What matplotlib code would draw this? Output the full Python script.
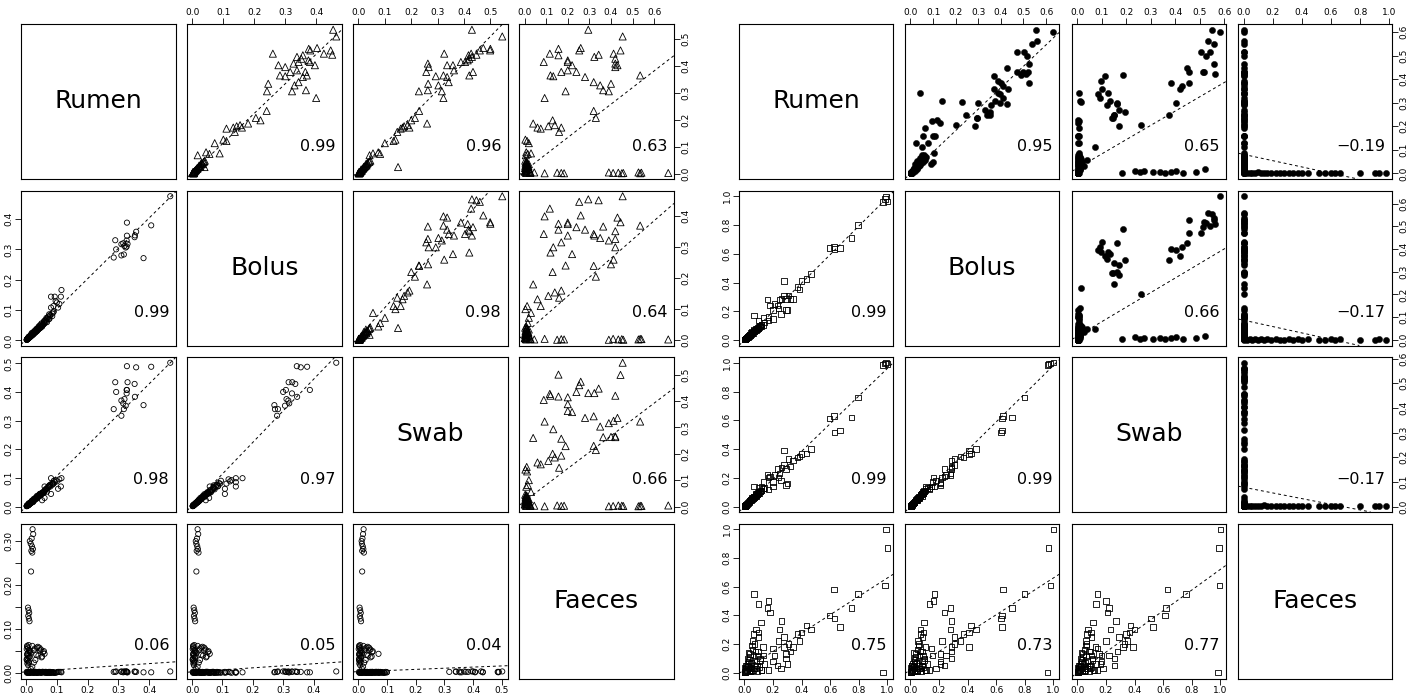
import matplotlib
matplotlib.use("Agg")
import matplotlib.pyplot as plt
from matplotlib.ticker import MaxNLocator
import numpy as np

names = ["Rumen", "Bolus", "Swab", "Faeces"]

# left figure, lower panels (open circles)
circ_rumen = [
    0.469, 0.407, 0.328, 0.358, 0.353, 0.290, 0.330, 0.293, 0.327, 0.327,
    0.382, 0.354, 0.324, 0.320, 0.316, 0.310, 0.310, 0.318, 0.285, 0.328,
    0.081, 0.093, 0.113, 0.115, 0.096, 0.089, 0.104, 0.081, 0.100, 0.108,
    0.090, 0.085, 0.078, 0.072, 0.070, 0.066, 0.062, 0.075, 0.068, 0.058,
    0.055, 0.050, 0.047, 0.044, 0.040, 0.036, 0.033, 0.030, 0.027, 0.024,
    0.021, 0.018, 0.015, 0.012, 0.010, 0.008, 0.006, 0.004, 0.060, 0.052,
    0.085, 0.079, 0.074, 0.069, 0.064, 0.059, 0.054, 0.049, 0.045, 0.041,
    0.038, 0.034, 0.031, 0.028, 0.025, 0.022, 0.019, 0.016, 0.013, 0.011,
    0.009, 0.007, 0.005, 0.003, 0.002, 0.088, 0.076, 0.065, 0.046, 0.035,
    0.021, 0.023, 0.018, 0.015, 0.019, 0.022, 0.017, 0.020, 0.016, 0.012,
    0.006, 0.008, 0.010, 0.007, 0.009, 0.011,
    0.008, 0.004, 0.002, 0.010, 0.006, 0.003, 0.012, 0.005, 0.002, 0.009, 0.004, 0.007,
    0.035, 0.045, 0.055, 0.060, 0.040, 0.050, 0.030, 0.025, 0.020, 0.015,
    0.003, 0.006, 0.009, 0.012, 0.004, 0.007, 0.010, 0.002, 0.005, 0.008,
    0.020, 0.028, 0.038, 0.048, 0.058, 0.015, 0.025, 0.033, 0.043, 0.052,
]
circ_bolus = [
    0.475, 0.379, 0.345, 0.358, 0.340, 0.330, 0.318, 0.300, 0.309, 0.329,
    0.271, 0.346, 0.306, 0.311, 0.320, 0.317, 0.280, 0.283, 0.273, 0.388,
    0.144, 0.144, 0.144, 0.166, 0.130, 0.113, 0.108, 0.108, 0.125, 0.120,
    0.095, 0.088, 0.082, 0.078, 0.070, 0.074, 0.066, 0.086, 0.060, 0.062,
    0.052, 0.056, 0.044, 0.048, 0.042, 0.038, 0.030, 0.034, 0.026, 0.028,
    0.020, 0.024, 0.016, 0.014, 0.010, 0.012, 0.006, 0.004, 0.056, 0.045,
    0.080, 0.084, 0.070, 0.073, 0.060, 0.064, 0.050, 0.053, 0.040, 0.046,
    0.034, 0.037, 0.027, 0.031, 0.022, 0.025, 0.017, 0.019, 0.012, 0.013,
    0.008, 0.009, 0.005, 0.003, 0.002, 0.092, 0.071, 0.069, 0.050, 0.039,
    0.018, 0.020, 0.016, 0.014, 0.017, 0.019, 0.015, 0.021, 0.014, 0.012,
    0.005, 0.007, 0.009, 0.006, 0.008, 0.010,
    0.007, 0.003, 0.002, 0.009, 0.005, 0.003, 0.011, 0.004, 0.002, 0.008, 0.004, 0.006,
    0.030, 0.040, 0.052, 0.058, 0.036, 0.046, 0.026, 0.022, 0.018, 0.012,
    0.003, 0.005, 0.008, 0.011, 0.004, 0.006, 0.009, 0.002, 0.005, 0.007,
    0.018, 0.025, 0.034, 0.044, 0.054, 0.014, 0.022, 0.030, 0.040, 0.048,
]
circ_swab = [
    0.502, 0.488, 0.490, 0.486, 0.428, 0.434, 0.434, 0.400, 0.407, 0.395,
    0.354, 0.383, 0.352, 0.375, 0.360, 0.370, 0.317, 0.340, 0.340, 0.407,
    0.099, 0.085, 0.070, 0.099, 0.092, 0.080, 0.062, 0.044, 0.088, 0.095,
    0.090, 0.082, 0.076, 0.070, 0.065, 0.060, 0.058, 0.072, 0.052, 0.050,
    0.048, 0.046, 0.040, 0.044, 0.036, 0.034, 0.028, 0.030, 0.024, 0.026,
    0.018, 0.020, 0.015, 0.012, 0.009, 0.011, 0.006, 0.004, 0.030, 0.022,
    0.076, 0.070, 0.068, 0.064, 0.058, 0.055, 0.050, 0.046, 0.043, 0.040,
    0.036, 0.032, 0.030, 0.027, 0.024, 0.021, 0.018, 0.016, 0.013, 0.011,
    0.009, 0.007, 0.005, 0.003, 0.002, 0.080, 0.074, 0.062, 0.044, 0.037,
    0.018, 0.016, 0.014, 0.012, 0.015, 0.017, 0.013, 0.019, 0.013, 0.011,
    0.004, 0.006, 0.008, 0.005, 0.007, 0.009,
    0.006, 0.003, 0.001, 0.008, 0.005, 0.002, 0.010, 0.004, 0.002, 0.007, 0.003, 0.006,
    0.028, 0.038, 0.048, 0.070, 0.034, 0.042, 0.025, 0.020, 0.016, 0.012,
    0.002, 0.005, 0.007, 0.010, 0.003, 0.006, 0.009, 0.002, 0.004, 0.007,
    0.017, 0.024, 0.032, 0.042, 0.050, 0.013, 0.021, 0.029, 0.037, 0.046,
]
circ_faeces = [
    0.004, 0.002, 0.003, 0.003, 0.004, 0.003, 0.002, 0.004, 0.003, 0.004,
    0.002, 0.003, 0.004, 0.003, 0.002, 0.004, 0.003, 0.004, 0.003, 0.002,
    0.002, 0.001, 0.003, 0.002, 0.001, 0.002, 0.003, 0.001, 0.002, 0.003,
    0.001, 0.002, 0.003, 0.001, 0.002, 0.001, 0.003, 0.002, 0.001, 0.002,
    0.003, 0.001, 0.002, 0.003, 0.001, 0.002, 0.001, 0.003, 0.002, 0.001,
    0.002, 0.003, 0.001, 0.002, 0.001, 0.003, 0.002, 0.001, 0.002, 0.003,
    0.002, 0.001, 0.003, 0.002, 0.001, 0.002, 0.003, 0.001, 0.002, 0.003,
    0.001, 0.002, 0.003, 0.001, 0.002, 0.001, 0.003, 0.002, 0.001, 0.002,
    0.003, 0.001, 0.002, 0.001, 0.003, 0.002, 0.001, 0.003, 0.002, 0.001,
    0.327, 0.316, 0.306, 0.294, 0.288, 0.282, 0.278, 0.274, 0.231, 0.300,
    0.149, 0.143, 0.137, 0.130, 0.124, 0.118,
    0.064, 0.060, 0.055, 0.050, 0.046, 0.042, 0.038, 0.034, 0.030, 0.026, 0.022, 0.018,
    0.058, 0.052, 0.048, 0.044, 0.040, 0.036, 0.030, 0.024, 0.015, 0.010,
    0.062, 0.057, 0.053, 0.049, 0.044, 0.040, 0.036, 0.032, 0.028, 0.024,
    0.062, 0.056, 0.060, 0.054, 0.050, 0.046, 0.052, 0.042, 0.058, 0.038,
]

# left figure, upper panels (open triangles)
tri_rumen = [
    0.535, 0.510, 0.446, 0.434, 0.464, 0.458, 0.467, 0.446, 0.458, 0.442,
    0.403, 0.396, 0.409, 0.415, 0.427, 0.440, 0.421, 0.415, 0.403, 0.365,
    0.362, 0.378, 0.384, 0.378, 0.365, 0.340, 0.328, 0.310, 0.281, 0.306,
    0.359, 0.334, 0.306, 0.233, 0.207, 0.198, 0.186, 0.167, 0.171, 0.176,
    0.180, 0.171, 0.155, 0.126, 0.121, 0.113, 0.079, 0.073, 0.075, 0.068,
    0.024,
    0.045, 0.040, 0.035, 0.030, 0.025, 0.020, 0.015, 0.010, 0.005,
    0.048, 0.043, 0.038, 0.033, 0.028, 0.024, 0.020, 0.017, 0.014, 0.011,
    0.008, 0.006, 0.004, 0.003, 0.002, 0.036, 0.026, 0.018, 0.012, 0.007,
    0.002, 0.004, 0.001, 0.003, 0.002, 0.001, 0.004, 0.002, 0.003, 0.001,
    0.002, 0.004, 0.001, 0.003, 0.002,
]
tri_bolus = [
    0.455, 0.465, 0.260, 0.338, 0.376, 0.381, 0.403, 0.425, 0.447, 0.452,
    0.278, 0.300, 0.327, 0.343, 0.352, 0.357, 0.375, 0.380, 0.396, 0.283,
    0.300, 0.316, 0.338, 0.365, 0.370, 0.343, 0.330, 0.367, 0.400, 0.322,
    0.357, 0.245, 0.241, 0.240, 0.205, 0.220, 0.180, 0.110, 0.132, 0.143,
    0.154, 0.160, 0.137, 0.100, 0.110, 0.072, 0.044, 0.055, 0.088, 0.017,
    0.039,
    0.038, 0.030, 0.034, 0.022, 0.026, 0.015, 0.012, 0.008, 0.004,
    0.040, 0.036, 0.031, 0.027, 0.024, 0.020, 0.017, 0.014, 0.012, 0.009,
    0.007, 0.005, 0.004, 0.003, 0.002, 0.028, 0.020, 0.016, 0.010, 0.006,
    0.003, 0.002, 0.004, 0.001, 0.003, 0.002, 0.001, 0.004, 0.002, 0.003,
    0.001, 0.002, 0.004, 0.003, 0.002,
]
tri_swab = [
    0.430, 0.545, 0.325, 0.430, 0.500, 0.499, 0.473, 0.427, 0.460, 0.447,
    0.358, 0.266, 0.263, 0.404, 0.420, 0.417, 0.414, 0.388, 0.336, 0.420,
    0.293, 0.257, 0.362, 0.434, 0.322, 0.342, 0.303, 0.263, 0.322, 0.316,
    0.336, 0.264, 0.229, 0.230, 0.214, 0.200, 0.260, 0.160, 0.167, 0.173,
    0.186, 0.193, 0.147, 0.140, 0.133, 0.100, 0.075, 0.082, 0.055, 0.042,
    0.150,
    0.042, 0.035, 0.028, 0.030, 0.020, 0.018, 0.010, 0.012, 0.005,
    0.045, 0.040, 0.034, 0.030, 0.026, 0.022, 0.019, 0.016, 0.013, 0.010,
    0.008, 0.006, 0.004, 0.003, 0.002, 0.032, 0.024, 0.015, 0.011, 0.008,
    0.002, 0.003, 0.001, 0.004, 0.002, 0.003, 0.001, 0.002, 0.004, 0.003,
    0.002, 0.001, 0.003, 0.002, 0.004,
]
tri_faeces = [
    0.295, 0.454, 0.412, 0.323, 0.157, 0.444, 0.260, 0.117, 0.253, 0.343,
    0.220, 0.420, 0.420, 0.089, 0.420, 0.157, 0.200, 0.200, 0.430, 0.120,
    0.133, 0.170, 0.200, 0.240, 0.535, 0.320, 0.350, 0.364, 0.093, 0.390,
    0.280, 0.400, 0.190, 0.320, 0.330, 0.130, 0.040, 0.075, 0.060, 0.110,
    0.140, 0.170, 0.160, 0.004, 0.012, 0.020, 0.008, 0.015, 0.030, 0.006,
    0.010,
    0.010, 0.005, 0.020, 0.008, 0.015, 0.003, 0.012, 0.006, 0.025,
    0.003, 0.008, 0.012, 0.005, 0.018, 0.010, 0.004, 0.022, 0.007, 0.015,
    0.002, 0.011, 0.028, 0.006, 0.009, 0.014, 0.003, 0.017, 0.008, 0.001,
    0.026, 0.045, 0.093, 0.151, 0.170, 0.183, 0.390, 0.410, 0.434, 0.450,
    0.457, 0.527, 0.535, 0.541, 0.665,
]

# right figure, lower panels (open squares)
sq_rumen = [
    0.990, 1.000, 0.984, 0.970,
    0.796, 0.750, 0.626, 0.597, 0.670, 0.632,
    0.465, 0.434, 0.400, 0.370, 0.387, 0.277, 0.310, 0.277, 0.340, 0.324,
    0.290, 0.260, 0.245, 0.210, 0.230, 0.180, 0.160, 0.240, 0.200, 0.290,
    0.300, 0.255, 0.066, 0.170, 0.135, 0.100, 0.170, 0.200,
    0.140, 0.130, 0.120, 0.115, 0.110, 0.105, 0.100, 0.095, 0.090, 0.085,
    0.080, 0.075, 0.070, 0.065, 0.060, 0.055, 0.050, 0.045, 0.040, 0.036,
    0.032, 0.028, 0.024, 0.020, 0.016, 0.012, 0.009, 0.006, 0.004, 0.002,
    0.118, 0.108, 0.098, 0.088, 0.078, 0.068, 0.058, 0.048, 0.042, 0.038,
    0.034, 0.030, 0.026, 0.022, 0.018, 0.014, 0.010, 0.007, 0.005, 0.003,
    0.062, 0.052, 0.044, 0.092, 0.082,
]
sq_bolus = [
    1.000, 0.965, 0.980, 0.960,
    0.800, 0.710, 0.647, 0.640, 0.640, 0.633,
    0.460, 0.425, 0.410, 0.370, 0.350, 0.410, 0.310, 0.310, 0.286, 0.286,
    0.286, 0.286, 0.280, 0.250, 0.240, 0.240, 0.280, 0.220, 0.210, 0.210,
    0.210, 0.180, 0.170, 0.160, 0.156, 0.135, 0.135, 0.147,
    0.120, 0.105, 0.110, 0.095, 0.100, 0.090, 0.085, 0.080, 0.075, 0.080,
    0.070, 0.065, 0.060, 0.062, 0.050, 0.048, 0.045, 0.040, 0.035, 0.030,
    0.028, 0.025, 0.020, 0.018, 0.014, 0.010, 0.008, 0.006, 0.004, 0.002,
    0.104, 0.096, 0.090, 0.082, 0.072, 0.060, 0.052, 0.044, 0.038, 0.036,
    0.030, 0.027, 0.024, 0.020, 0.016, 0.012, 0.009, 0.006, 0.004, 0.003,
    0.070, 0.056, 0.050, 0.088, 0.078,
]
sq_swab = [
    1.000, 0.990, 0.995, 0.985,
    0.760, 0.620, 0.630, 0.614, 0.530, 0.515,
    0.400, 0.370, 0.365, 0.340, 0.350, 0.390, 0.330, 0.290, 0.320, 0.280,
    0.260, 0.270, 0.230, 0.220, 0.260, 0.210, 0.220, 0.200, 0.170, 0.150,
    0.160, 0.180, 0.140, 0.200, 0.170, 0.130, 0.120, 0.140,
    0.130, 0.125, 0.140, 0.110, 0.105, 0.095, 0.100, 0.090, 0.085, 0.070,
    0.075, 0.072, 0.065, 0.060, 0.055, 0.050, 0.052, 0.045, 0.040, 0.035,
    0.030, 0.028, 0.022, 0.020, 0.015, 0.012, 0.008, 0.006, 0.004, 0.002,
    0.112, 0.104, 0.094, 0.086, 0.080, 0.066, 0.060, 0.050, 0.044, 0.040,
    0.034, 0.031, 0.026, 0.023, 0.018, 0.014, 0.010, 0.007, 0.005, 0.003,
    0.068, 0.060, 0.046, 0.098, 0.090,
]
sq_faeces = [
    1.000, 0.870, 0.610, 0.000,
    0.550, 0.450, 0.580, 0.400, 0.320, 0.380,
    0.300, 0.330, 0.280, 0.270, 0.220, 0.180, 0.200, 0.250, 0.180, 0.150,
    0.100, 0.360, 0.300, 0.120, 0.050, 0.420, 0.450, 0.220, 0.080, 0.130,
    0.060, 0.030, 0.550, 0.500, 0.120, 0.480, 0.020, 0.170,
    0.060, 0.180, 0.020, 0.350, 0.100, 0.040, 0.250, 0.150, 0.010, 0.080,
    0.300, 0.050, 0.200, 0.120, 0.020, 0.160, 0.070, 0.030, 0.110, 0.010,
    0.090, 0.140, 0.040, 0.060, 0.020, 0.030, 0.010, 0.050, 0.005, 0.000,
    0.020, 0.090, 0.280, 0.050, 0.150, 0.030, 0.220, 0.010, 0.060, 0.130,
    0.020, 0.080, 0.040, 0.100, 0.015, 0.050, 0.025, 0.010, 0.035, 0.002,
    0.270, 0.190, 0.008, 0.120, 0.030,
]

# right figure, upper panels (filled circles)
dot_rumen = [
    0.610, 0.600, 0.564, 0.550, 0.517, 0.514, 0.500, 0.464, 0.430, 0.421,
    0.431, 0.386, 0.446, 0.429, 0.386, 0.357, 0.300, 0.371, 0.250,
    0.414, 0.393, 0.420, 0.340, 0.307, 0.320, 0.360, 0.336, 0.260, 0.300,
    0.270, 0.235, 0.290, 0.250, 0.293, 0.207, 0.114, 0.057, 0.236, 0.200, 0.250,
    0.343, 0.307, 0.303, 0.229, 0.221, 0.214, 0.193, 0.157, 0.160, 0.157,
    0.129, 0.129, 0.086, 0.047, 0.040, 0.080, 0.070, 0.065, 0.060, 0.055,
    0.050, 0.045, 0.040, 0.035, 0.030, 0.025, 0.020, 0.015, 0.010, 0.005,
    0.078, 0.072, 0.066, 0.061, 0.056, 0.052, 0.047, 0.043, 0.038, 0.033,
    0.028, 0.023, 0.018, 0.013, 0.008, 0.004, 0.002, 0.058, 0.036, 0.022,
    0.004, 0.010, 0.006, 0.012, 0.005, 0.008, 0.003, 0.007, 0.009, 0.004, 0.006, 0.020,
    0.003, 0.001, 0.004, 0.002, 0.005, 0.001, 0.003, 0.002, 0.004, 0.001,
    0.002, 0.003, 0.001, 0.004, 0.002, 0.003, 0.001, 0.002, 0.004, 0.001,
    0.003, 0.002, 0.001, 0.003, 0.002, 0.001,
]
dot_bolus = [
    0.556, 0.632, 0.560, 0.536, 0.472, 0.502, 0.516, 0.526, 0.496, 0.512,
    0.520, 0.526, 0.426, 0.470, 0.400, 0.370, 0.396, 0.411, 0.350,
    0.370, 0.386, 0.490, 0.386, 0.376, 0.410, 0.430, 0.396, 0.350, 0.300,
    0.330, 0.296, 0.356, 0.340, 0.426, 0.200, 0.050, 0.050, 0.296, 0.286, 0.246,
    0.040, 0.140, 0.229, 0.116, 0.096, 0.132, 0.066, 0.056, 0.100, 0.110,
    0.076, 0.026, 0.106, 0.100, 0.090, 0.050, 0.065, 0.040, 0.060, 0.030,
    0.055, 0.045, 0.020, 0.040, 0.035, 0.015, 0.030, 0.010, 0.020, 0.005,
    0.060, 0.070, 0.048, 0.055, 0.042, 0.050, 0.036, 0.044, 0.030, 0.038,
    0.024, 0.028, 0.016, 0.012, 0.008, 0.004, 0.002, 0.066, 0.026, 0.018,
    0.005, 0.012, 0.004, 0.010, 0.006, 0.009, 0.003, 0.008, 0.011, 0.004, 0.007, 0.018,
    0.002, 0.004, 0.001, 0.003, 0.002, 0.005, 0.001, 0.003, 0.002, 0.004,
    0.001, 0.002, 0.003, 0.001, 0.004, 0.002, 0.003, 0.001, 0.002, 0.004,
    0.001, 0.003, 0.002, 0.001, 0.003, 0.002,
]
dot_swab = [
    0.550, 0.583, 0.531, 0.559, 0.504, 0.541, 0.526, 0.559, 0.513, 0.561,
    0.515, 0.457, 0.448, 0.457, 0.383, 0.420, 0.402, 0.426, 0.374,
    0.111, 0.096, 0.185, 0.124, 0.133, 0.090, 0.100, 0.082, 0.193, 0.160,
    0.170, 0.145, 0.120, 0.150, 0.163, 0.260, 0.070, 0.037, 0.140, 0.170, 0.150,
    0.005, 0.010, 0.013, 0.004, 0.006, 0.003, 0.008, 0.004, 0.002, 0.006,
    0.005, 0.003, 0.007, 0.004, 0.006, 0.004, 0.010, 0.002, 0.015, 0.006,
    0.020, 0.003, 0.012, 0.008, 0.025, 0.005, 0.001, 0.009, 0.003, 0.002,
    0.006, 0.002, 0.011, 0.004, 0.008, 0.001, 0.014, 0.005, 0.003, 0.009,
    0.002, 0.006, 0.012, 0.001, 0.004, 0.002, 0.001, 0.007, 0.003, 0.010,
    0.180, 0.235, 0.254, 0.272, 0.310, 0.337, 0.356, 0.383, 0.402, 0.430, 0.485, 0.520,
    0.001, 0.003, 0.002, 0.004, 0.001, 0.002, 0.005, 0.001, 0.003, 0.002,
    0.004, 0.001, 0.002, 0.003, 0.001, 0.004, 0.002, 0.001, 0.003, 0.002,
    0.004, 0.001, 0.002, 0.003, 0.001, 0.002,
]
dot_faeces = [
    0.0, 0.0, 0.0, 0.0, 0.0, 0.0, 0.0, 0.0, 0.0, 0.0,
    0.0, 0.0, 0.0, 0.0, 0.0, 0.0, 0.0, 0.0, 0.0,
    0.0, 0.0, 0.0, 0.0, 0.0, 0.0, 0.0, 0.0, 0.0, 0.0,
    0.0, 0.0, 0.0, 0.0, 0.0, 0.0, 0.0, 0.0, 0.0, 0.0, 0.0,
    0.0, 0.0, 0.0, 0.0, 0.0, 0.0, 0.0, 0.0, 0.0, 0.0,
    0.0, 0.0, 0.0, 0.0, 0.0, 0.0, 0.0, 0.0, 0.0, 0.0,
    0.0, 0.0, 0.0, 0.0, 0.0, 0.0, 0.0, 0.0, 0.0, 0.0,
    0.0, 0.0, 0.0, 0.0, 0.0, 0.0, 0.0, 0.0, 0.0, 0.0,
    0.0, 0.0, 0.0, 0.0, 0.0, 0.0, 0.0, 0.0, 0.0, 0.0,
    0.0, 0.0, 0.0, 0.0, 0.0, 0.0, 0.0, 0.0, 0.0, 0.0, 0.0, 0.0,
    0.020, 0.040, 0.060, 0.080, 0.100, 0.120, 0.140, 0.160, 0.190, 0.220,
    0.250, 0.280, 0.310, 0.340, 0.370, 0.400, 0.440, 0.520, 0.560, 0.600,
    0.630, 0.660, 0.800, 0.900, 0.930, 0.980,
]

# printed coefficients, panel order:
# lower (1,0) (2,0) (2,1) (3,0) (3,1) (3,2); upper (0,1) (0,2) (0,3) (1,2) (1,3) (2,3)
circ_r = [0.99, 0.98, 0.97, 0.06, 0.05, 0.04]
tri_r = [0.99, 0.96, 0.63, 0.98, 0.64, 0.66]
sq_r = [0.99, 0.99, 0.99, 0.75, 0.73, 0.77]
dot_r = [0.95, 0.65, -0.19, 0.66, -0.17, -0.17]

# dashed fitted lines (intercept, slope)
circ_fit_a = [0.003, 0.000, 0.004, 0.003, 0.003, 0.0035]
circ_fit_b = [1.00, 1.07, 1.10, 0.047, 0.046, 0.026]
tri_fit_a = [0.004, 0.010, 0.010, 0.010, 0.020, 0.020]
tri_fit_b = [1.10, 1.00, 0.62, 0.95, 0.61, 0.62]
sq_fit_a = [0.000, 0.000, 0.000, 0.020, 0.020, 0.000]
sq_fit_b = [0.99, 0.96, 0.98, 0.64, 0.64, 0.72]
dot_fit_a = [0.000, 0.023, 0.081, 0.017, 0.087, 0.078]
dot_fit_b = [0.91, 0.606, -0.133, 0.64, -0.14, -0.115]

W, H = 1413, 694
fig = plt.figure(figsize=(W / 100, H / 100), dpi=100)
plt.rcParams['font.family'] = 'DejaVu Sans'

ROW_Y = [24, 190.5, 357, 523.5]
PH = 155
LOWER = [(1, 0), (2, 0), (2, 1), (3, 0), (3, 1), (3, 2)]
UPPER = [(0, 1), (0, 2), (0, 3), (1, 2), (1, 3), (2, 3)]


def usr(v):
    lo, hi = min(v), max(v)
    pad = 0.04 * (hi - lo)
    return lo - pad, hi + pad


def pretty(lim):
    t = MaxNLocator(nbins=8, steps=[1, 2, 5, 10]).tick_values(lim[0], lim[1])
    t = [0.0 if abs(v) < 1e-12 else v for v in t
         if lim[0] - 1e-9 <= v <= lim[1] + 1e-9]
    step = t[1] - t[0]
    e = int(np.floor(np.log10(step) + 1e-9))
    lead = round(step / 10 ** e)
    dec = max(0, -e)
    labs = []
    for v in t:
        if lead == 5 and round(v / step) % 2:
            labs.append("")
        else:
            labs.append(f"{v:.{dec}f}")
    return t, labs


def draw_pairs(xs, pw, lower, upper, lsty, usty, lr, ur, la, lb, ua, ub):
    for i in range(4):
        for j in range(4):
            ax = fig.add_axes([xs[j] / W, 1 - (ROW_Y[i] + PH) / H, pw / W, PH / H])
            for s in ax.spines.values():
                s.set_linewidth(0.8)
            ax.tick_params(which='both', bottom=False, left=False, top=False, right=False,
                           labelbottom=False, labelleft=False)
            if i == j:
                ax.set_xlim(0, 1)
                ax.set_ylim(0, 1)
                ax.text(0.5, 0.5, names[i], ha='center', va='center', fontsize=18)
                continue
            if i > j:
                k = LOWER.index((i, j))
                x, y, sty = lower[j], lower[i], lsty
                r, a, b = lr[k], la[k], lb[k]
            else:
                k = UPPER.index((i, j))
                x, y, sty = upper[j], upper[i], usty
                r, a, b = ur[k], ua[k], ub[k]
            ax.set_xlim(*usr(x))
            ax.set_ylim(*usr(y))
            ax.scatter(x, y, zorder=2, clip_on=False, **sty)
            ax.axline((0, a), slope=b, color='black', lw=0.7, ls=(0, (3, 3)), zorder=1)
            ax.text(0.955, 0.21, f"{r:.2f}".replace("-", "\u2212"), transform=ax.transAxes,
                    ha='right', va='center', fontsize=11.5)

            kw = dict(length=4, width=0.6, labelsize=6.5, pad=1.2, direction='out')
            if i == 0 and j > 0:
                t, l = pretty(ax.get_xlim())
                ax.set_xticks(t, l)
                ax.tick_params(axis='x', top=True, labeltop=True, **kw)
            if i == 3 and j < 3:
                t, l = pretty(ax.get_xlim())
                ax.set_xticks(t, l)
                ax.tick_params(axis='x', bottom=True, labelbottom=True, **kw)
            if j == 0 and i > 0:
                t, l = pretty(ax.get_ylim())
                ax.set_yticks(t, l)
                ax.tick_params(axis='y', left=True, labelleft=True, labelrotation=90, **kw)
                for lab in ax.get_yticklabels():
                    lab.set_va('center')
            if j == 3 and i < 3:
                t, l = pretty(ax.get_ylim())
                ax.set_yticks(t, l)
                ax.tick_params(axis='y', right=True, labelright=True, labelrotation=90, **kw)
                for lab in ax.get_yticklabels():
                    lab.set_va('center')


circ_style = dict(marker='o', s=14, facecolors='none', edgecolors='black', linewidths=0.6)
tri_style = dict(marker='^', s=26, facecolors='none', edgecolors='black', linewidths=0.6)
sq_style = dict(marker='s', s=15, facecolors='none', edgecolors='black', linewidths=0.6)
dot_style = dict(marker='o', s=20, facecolors='black', edgecolors='black', linewidths=0.3)

draw_pairs([21, 187, 353, 519], 155,
           [circ_rumen, circ_bolus, circ_swab, circ_faeces],
           [tri_rumen, tri_bolus, tri_swab, tri_faeces],
           circ_style, tri_style, circ_r, tri_r,
           circ_fit_a, circ_fit_b, tri_fit_a, tri_fit_b)

draw_pairs([739, 905, 1072, 1238], 154,
           [sq_rumen, sq_bolus, sq_swab, sq_faeces],
           [dot_rumen, dot_bolus, dot_swab, dot_faeces],
           sq_style, dot_style, sq_r, dot_r,
           sq_fit_a, sq_fit_b, dot_fit_a, dot_fit_b)

fig.savefig("out.png", dpi=100)
